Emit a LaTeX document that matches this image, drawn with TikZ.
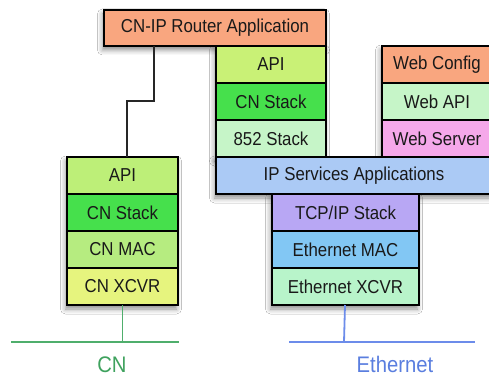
\documentclass[tikz,border=0pt]{standalone}
\usepackage{fontspec}
\setmainfont{Liberation Sans}[FakeStretch=0.9]
\usetikzlibrary{shadows.blur}

\definecolor{appsalmon}{HTML}{F9A67F}
\definecolor{apigreen}{HTML}{C9F176}
\definecolor{stackgreen}{HTML}{46E04C}
\definecolor{palegreen}{HTML}{C6F5C8}
\definecolor{webpink}{HTML}{F5A8EA}
\definecolor{ipblue}{HTML}{ABCAF5}
\definecolor{tcplilac}{HTML}{B8A7F4}
\definecolor{macblue}{HTML}{82C7F4}
\definecolor{xcvrgreen}{HTML}{B8F4CA}
\definecolor{cnapi}{HTML}{BDEF78}
\definecolor{cnmac}{HTML}{B6EC80}
\definecolor{cnxcvr}{HTML}{E6F47E}
\definecolor{cnline}{HTML}{4FAE6C}
\definecolor{ethline}{HTML}{6C8CEA}
\definecolor{cntext}{HTML}{3FA25E}
\definecolor{ethtext}{HTML}{5A7EDF}

\begin{document}
\begin{tikzpicture}[x=1pt,y=-1pt,
  layer/.style={draw=black, line width=1.6pt, minimum height=37pt,
    inner sep=0pt, outer sep=0pt, text=black!90,
    font=\fontsize{18.7}{21}\selectfont},
  softshadow/.style={blur shadow={shadow xshift=-1.5pt, shadow yshift=-4pt,
    shadow blur radius=5pt, shadow opacity=45}},
  wire/.style={draw=black!85, line width=1.6pt},
  cnwire/.style={draw=cnline, line width=1.8pt},
  ethwire/.style={draw=ethline, line width=1.8pt},
  buslabel/.style={font=\fontsize{22.5}{25}\selectfont, anchor=base, inner sep=0pt}]

\clip (0,0) rectangle (489,377);
\fill[white] (0,0) rectangle (489,377);

% soft shadows under each group of layers
\path[softshadow] (104,10) rectangle (326,46);
\path[softshadow] (216,46) rectangle (326,157);
\path[softshadow] (382,46) rectangle (495,157);
\path[softshadow] (216,157) rectangle (495,194);
\path[softshadow] (272,194) rectangle (419,305);
\path[softshadow] (67,157) rectangle (178,305);

% router application and the CN side of its stack
\node[layer, fill=appsalmon, minimum width=222pt, minimum height=36pt]
  (router) at (215,28) {CN-IP Router Application};
\node[layer, fill=apigreen, minimum width=110pt] (rapi) at (271,64.5) {API};
\node[layer, fill=stackgreen, minimum width=110pt] (rcn) at (271,101.5) {CN Stack};
\node[layer, fill=palegreen, minimum width=110pt] (r852) at (271,138.5) {852 Stack};

% web stack
\node[layer, fill=appsalmon, minimum width=110pt] (webcfg) at (437,64.5) {Web Config};
\node[layer, fill=palegreen, minimum width=110pt] (webapi) at (437,101.5) {Web API};
\node[layer, fill=webpink, minimum width=110pt] (websrv) at (437,138.5) {Web Server};

% IP services and the Ethernet stack
\node[layer, fill=ipblue, minimum width=276pt] (ipsvc) at (354,175.5) {IP Services Applications};
\node[layer, fill=tcplilac, minimum width=147pt] (tcp) at (345.5,212.5) {TCP/IP Stack};
\node[layer, fill=macblue, minimum width=147pt] (emac) at (345.5,249.5) {Ethernet MAC};
\node[layer, fill=xcvrgreen, minimum width=147pt] (exc) at (345.5,286.5) {Ethernet XCVR};

% CN node stack
\node[layer, fill=cnapi, minimum width=111pt] (lapi) at (122.5,175.5) {API};
\node[layer, fill=stackgreen, minimum width=111pt] (lcn) at (122.5,212.5) {CN Stack};
\node[layer, fill=cnmac, minimum width=111pt] (lmac) at (122.5,249.5) {CN MAC};
\node[layer, fill=cnxcvr, minimum width=111pt] (lxc) at (122.5,286.5) {CN XCVR};

% router link to the CN node API
\draw[wire] ([xshift=50pt]router.south west) -- ++(0,55) -| ([xshift=4.5pt]lapi.north);

% buses
\coordinate (cnL) at (11,342);
\coordinate (cnR) at (179,342);
\coordinate (cntap) at (122.5,342);
\coordinate (ethL) at (289,342);
\coordinate (ethR) at (475,342);
\coordinate (ethtap) at (344,342);

\draw[cnwire] (lxc.south) -- (cntap);
\draw[cnwire] (cnL) -- (cnR);
\draw[ethwire] ([xshift=-0.5pt]exc.south) -- (ethtap);
\draw[ethwire] (ethL) -- (ethR);

\node[buslabel, text=cntext] (cnlabel) at (112,372.5) {CN};
\node[buslabel, text=ethtext] (ethlabel) at (395,372.5) {Ethernet};
\end{tikzpicture}
\end{document}
